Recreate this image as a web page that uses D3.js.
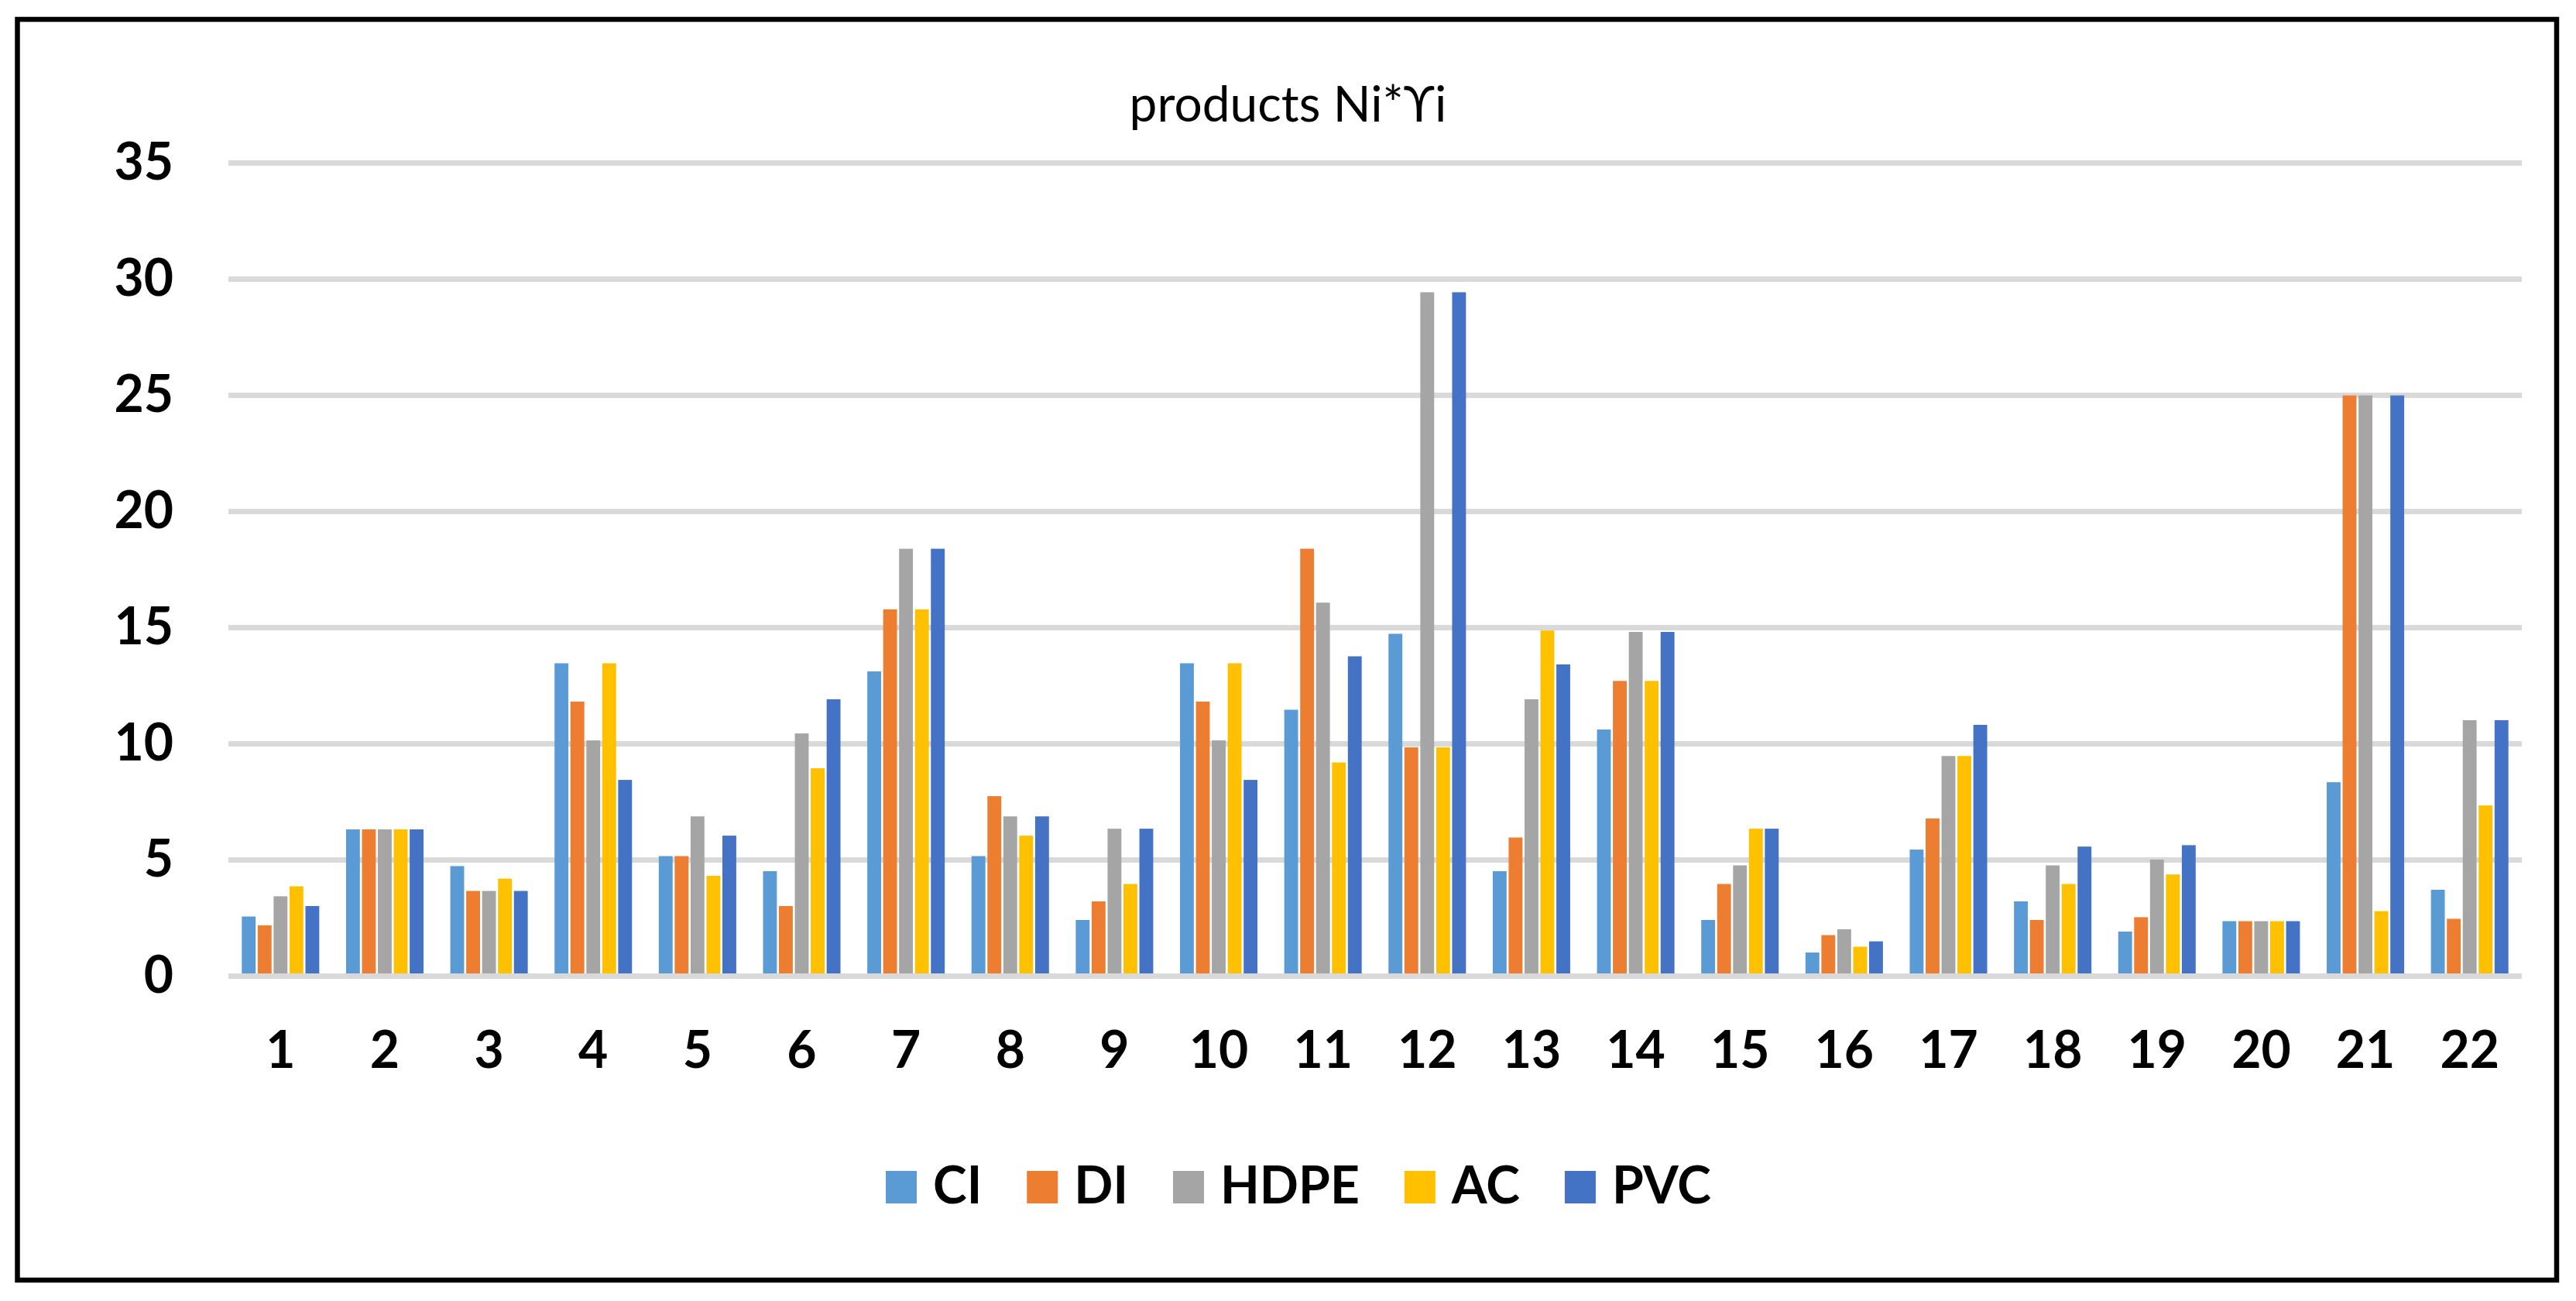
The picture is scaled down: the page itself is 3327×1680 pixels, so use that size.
<!DOCTYPE html>
<html>
<head>
<meta charset="utf-8">
<script src="https://d3js.org/d3.v7.min.js"></script>
<style>
  body { margin: 0; background: #fff; }
  svg { display: block; }
</style>
</head>
<body>
<div id="chart"></div>
<script>
// Data
var categories = ["1","2","3","4","5","6","7","8","9","10","11","12","13","14","15","16","17","18","19","20","21","22"];
var seriesNames = ["CI", "DI", "HDPE", "AC", "PVC"];
var seriesColors = ["#5B9BD5", "#ED7D31", "#A5A5A5", "#FFC000", "#4472C4"];

var ciValues   = [2.55, 6.3, 4.72, 13.45, 5.15, 4.5, 13.1, 5.15, 2.4, 13.45, 11.45, 14.72, 4.5, 10.6, 2.4, 1.0, 5.43, 3.2, 1.9, 2.35, 8.33, 3.7];
var diValues   = [2.17, 6.3, 3.65, 11.8, 5.15, 3.0, 15.77, 7.73, 3.2, 11.8, 18.38, 9.83, 5.95, 12.69, 3.95, 1.75, 6.77, 2.4, 2.52, 2.35, 24.98, 2.45];
var hdpeValues = [3.42, 6.3, 3.65, 10.13, 6.86, 10.43, 18.38, 6.86, 6.33, 10.13, 16.06, 29.42, 11.9, 14.8, 4.75, 2.0, 9.46, 4.75, 5.0, 2.35, 24.98, 11.0];
var acValues   = [3.85, 6.3, 4.18, 13.45, 4.3, 8.93, 15.77, 6.03, 3.95, 13.45, 9.18, 9.83, 14.86, 12.69, 6.33, 1.25, 9.46, 3.95, 4.36, 2.35, 2.78, 7.33];
var pvcValues  = [3.0, 6.3, 3.65, 8.43, 6.03, 11.9, 18.38, 6.86, 6.33, 8.43, 13.75, 29.42, 13.4, 14.8, 6.33, 1.48, 10.8, 5.56, 5.62, 2.35, 24.98, 11.0];
var yTicks = [0, 5, 10, 15, 20, 25, 30, 35];
var chartTitle = "products Ni*\u03D2i";

var allValues = [ciValues, diValues, hdpeValues, acValues, pvcValues];

var svgWidth = 3327;
var svgHeight = 1680;

// plot area
var plot = { left: 295, right: 3257, top: 210, bottom: 1260 };

var svg = d3.select("#chart")
  .append("svg")
  .attr("width", svgWidth)
  .attr("height", svgHeight);

svg.append("rect")
  .attr("width", svgWidth)
  .attr("height", svgHeight)
  .attr("fill", "#fff");

// outer frame
svg.append("rect")
  .attr("x", 22.5)
  .attr("y", 25)
  .attr("width", 3279.5)
  .attr("height", 1628)
  .attr("fill", "none")
  .attr("stroke", "#000")
  .attr("stroke-width", 6.5);

// Scales
var x0 = d3.scaleBand()
  .domain(categories)
  .range([plot.left, plot.right])
  .paddingInner(0.257)
  .paddingOuter(0.1285);

var x1 = d3.scaleBand()
  .domain(seriesNames)
  .range([0, x0.bandwidth()])
  .paddingInner(0.13);

var y = d3.scaleLinear()
  .domain([0, 35])
  .range([plot.bottom, plot.top]);

// Y axis with gridlines
var yAxis = svg.append("g")
  .attr("transform", `translate(${plot.left}, 0)`)
  .call(d3.axisLeft(y)
    .tickValues(yTicks)
    .tickSize(-(plot.right - plot.left))
    .tickPadding(71));

yAxis.select(".domain").remove();
yAxis.selectAll(".tick line")
  .attr("stroke", "#D9D9D9")
  .attr("stroke-width", 7);
yAxis.selectAll(".tick text")
  .attr("font-family", "Lato, 'Open Sans', sans-serif")
  .attr("font-weight", "bold")
  .attr("font-size", "66px")
  .attr("fill", "#000");

// Bars
var groups = svg.append("g")
  .selectAll("g")
  .data(categories)
  .enter()
  .append("g")
  .attr("transform", d => `translate(${x0(d)}, 0)`);

groups.selectAll("rect")
  .data((d, i) => seriesNames.map((s, j) => ({ series: s, color: seriesColors[j], value: allValues[j][i] })))
  .enter()
  .append("rect")
  .attr("x", d => x1(d.series))
  .attr("y", d => y(d.value))
  .attr("width", x1.bandwidth())
  .attr("height", d => y(0) - y(d.value) - 3)
  .attr("fill", d => d.color);

// X axis labels
var xAxis = svg.append("g")
  .attr("transform", `translate(0, ${plot.bottom})`)
  .call(d3.axisBottom(x0).tickSize(0));

xAxis.select(".domain").remove();
xAxis.selectAll(".tick text")
  .attr("y", 119)
  .attr("dy", 0)
  .attr("font-family", "Lato, 'Open Sans', sans-serif")
  .attr("font-weight", "bold")
  .attr("font-size", "66px")
  .attr("fill", "#000");

// Title
svg.append("text")
  .attr("x", svgWidth / 2)
  .attr("y", 157)
  .attr("text-anchor", "middle")
  .attr("font-family", "Lato, 'Open Sans', sans-serif")
  .attr("font-size", "64px")
  .attr("fill", "#000")
  .text(chartTitle);

// Legend
var legend = svg.append("g");
var cursor = 0;
seriesNames.forEach(function(name, i) {
  var item = legend.append("g").attr("transform", `translate(${cursor}, 0)`);
  item.append("rect")
    .attr("x", 0)
    .attr("y", 1512)
    .attr("width", 40)
    .attr("height", 42)
    .attr("fill", seriesColors[i]);
  var label = item.append("text")
    .attr("x", 61)
    .attr("y", 1554)
    .attr("font-family", "Lato, 'Open Sans', sans-serif")
    .attr("font-weight", "bold")
    .attr("font-size", "66px")
    .attr("fill", "#000")
    .text(name);
  cursor += 61 + label.node().getComputedTextLength() + 58;
});
var legendWidth = cursor - 58;
legend.attr("transform", `translate(${1677 - legendWidth / 2}, 0)`);
</script>
</body>
</html>
